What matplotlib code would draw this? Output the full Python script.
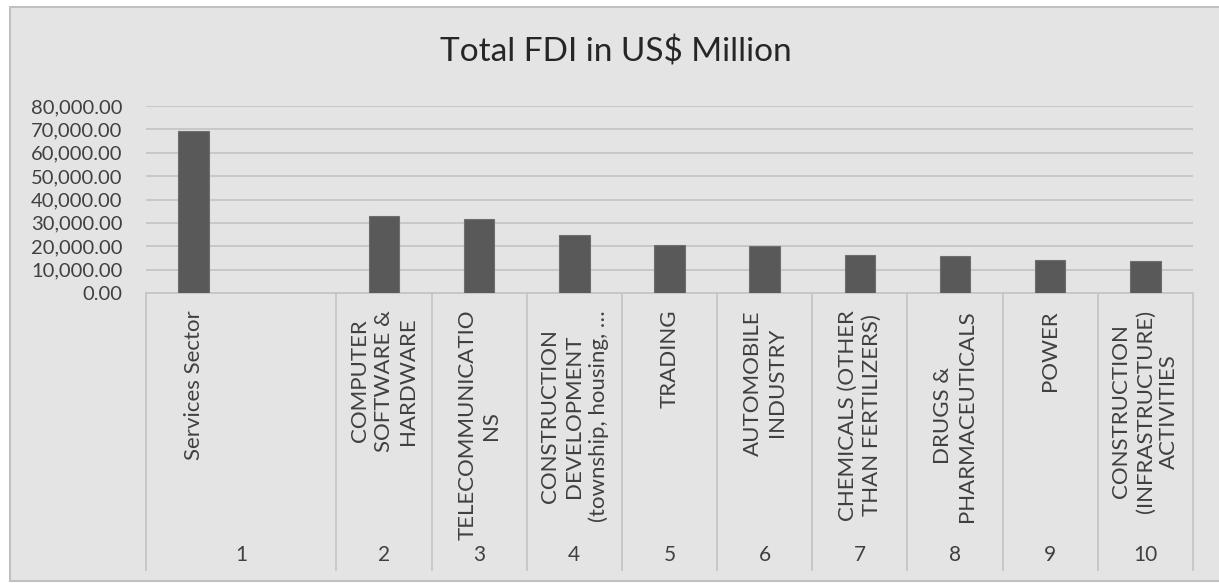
import matplotlib
matplotlib.use("Agg")
import matplotlib.pyplot as plt
import matplotlib.transforms as mtransforms
from matplotlib.patches import Rectangle
import numpy as np

plt.rcParams['font.family'] = ['Lato', 'DejaVu Sans']

# data (slot 2 is the empty second row of group 1)
sectors = ["Services Sector", "",
           "COMPUTER\nSOFTWARE &\nHARDWARE",
           "TELECOMMUNICATIO\nNS",
           "CONSTRUCTION\nDEVELOPMENT\n(township, housing, \u2026",
           "TRADING",
           "AUTOMOBILE\nINDUSTRY",
           "CHEMICALS (OTHER\nTHAN FERTILIZERS)",
           "DRUGS &\nPHARMACEUTICALS",
           "POWER",
           "CONSTRUCTION\n(INFRASTRUCTURE)\nACTIVITIES"]
fdi = [69500, np.nan, 32800, 31700, 24800, 20400, 20300, 16350, 15800, 14100, 13500]
group_labels = ["1", "2", "3", "4", "5", "6", "7", "8", "9", "10"]
group_sizes = [2, 1, 1, 1, 1, 1, 1, 1, 1, 1]
yticks = [0, 10000, 20000, 30000, 40000, 50000, 60000, 70000, 80000]

W, H = 1219, 583
fig = plt.figure(figsize=(W / 100, H / 100), dpi=100)
fig.patch.set_facecolor("white")
bg = "#e4e4e4"
frame = Rectangle((10 / W, 2 / H), 1.0, (574 / H), transform=fig.transFigure,
                  facecolor=bg, edgecolor="#c0c0c0", linewidth=1.5, zorder=-5)
fig.add_artist(frame)

ax = fig.add_axes([146 / W, (H - 293) / H, (1193 - 146) / W, (293 - 106) / H])
ax.set_zorder(2)
ax.set_facecolor(bg)
x = np.arange(len(sectors))
ax.bar(x, fdi, width=0.32, color="#595959", edgecolor="#6e6e6e", linewidth=0.8, zorder=3)

ax.set_xlim(-0.5, len(sectors) - 0.5)
ax.set_ylim(0, 80000)
ax.set_yticks(yticks)
ax.set_yticklabels([f"{v:,.2f}" for v in yticks], fontsize=14.5, color="#404040")
ax.tick_params(axis="y", length=0, pad=17)
ax.set_xticks([])
ax.grid(axis="y", color="#c6c6c6", linewidth=1.3, zorder=0)
for s in ["top", "right", "left"]:
    ax.spines[s].set_visible(False)
ax.spines["bottom"].set_color("#c6c6c6")
ax.spines["bottom"].set_linewidth(1.3)

# multi-level category axis
trans = mtransforms.blended_transform_factory(ax.transData, ax.transAxes)
px = 1.0 / (293 - 106)
bottom = -(570 - 293) * px
for i, name in enumerate(sectors):
    if name:
        ax.text(i, -17 * px, name, transform=trans, rotation=90, ha="center", va="top",
                multialignment="center", fontsize=16, color="#404040", linespacing=1.25)

edge = -0.5
ax.plot([edge, edge], [0, bottom], transform=trans, color="#c6c6c6", lw=1.3, clip_on=False)
for lab, n in zip(group_labels, group_sizes):
    ax.text(edge + n / 2, -(555 - 293) * px, lab, transform=trans, ha="center", va="center",
            fontsize=15, color="#404040")
    edge += n
    ax.plot([edge, edge], [0, bottom], transform=trans, color="#c6c6c6", lw=1.3, clip_on=False)

fig.text(616 / W, (H - 52) / H, "Total FDI in US$ Million",
         ha="center", va="center", fontsize=24, color="#262626")

fig.savefig("out.png", dpi=100, facecolor=fig.get_facecolor())
